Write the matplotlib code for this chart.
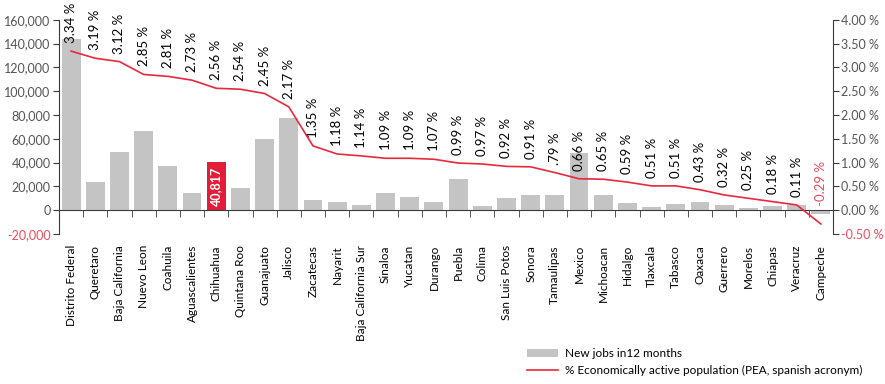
import numpy as np
import matplotlib
matplotlib.use("Agg")
from matplotlib import pyplot as plt
from matplotlib.ticker import FuncFormatter, MultipleLocator

plt.rcParams['font.family'] = ['Lato', 'DejaVu Sans']

# -----------------------------
# data
states = ["Distrito Federal", "Queretaro", "Baja California", "Nuevo Leon", "Coahuila",
          "Aguascalientes", "Chihuahua", "Quintana Roo", "Guanajuato", "Jalisco",
          "Zacatecas", "Nayarit", "Baja California Sur", "Sinaloa", "Yucatan", "Durango",
          "Puebla", "Colima", "San Luis Potos", "Sonora", "Tamaulipas", "Mexico",
          "Michoacan", "Hidalgo", "Tlaxcala", "Tabasco", "Oaxaca", "Guerrero", "Morelos",
          "Chiapas", "Veracruz", "Campeche"]
new_jobs = [143600, 23800, 48900, 66600, 37200, 14500, 40817, 18700, 59900, 77500,
            8700, 7000, 4500, 14500, 11200, 7000, 26300, 3600, 10400, 12900, 12900, 48100,
            12900, 6200, 2800, 5300, 7000, 4500, 2000, 3600, 4500, -2800]
pea_pct = [3.34, 3.19, 3.12, 2.85, 2.81, 2.73, 2.56, 2.54, 2.45, 2.17,
           1.35, 1.18, 1.14, 1.09, 1.09, 1.07, 0.99, 0.97, 0.92, 0.91, 0.79, 0.66,
           0.65, 0.59, 0.51, 0.51, 0.43, 0.32, 0.25, 0.18, 0.11, -0.29]
pct_text = ["3.34 %", "3.19 %", "3.12 %", "2.85 %", "2.81 %", "2.73 %", "2.56 %", "2.54 %",
            "2.45 %", "2.17 %", "1.35 %", "1.18 %", "1.14 %", "1.09 %", "1.09 %", "1.07 %",
            "0.99 %", "0.97 %", "0.92 %", "0.91 %", ".79 %", "0.66 %", "0.65 %", "0.59 %",
            "0.51 %", "0.51 %", "0.43 %", "0.32 %", "0.25 %", "0.18 %", "0.11 %", "-0.29 %"]
highlight = "Chihuahua"

# colours
grey_bar = '#c4c4c4'
red = '#e8283c'
red_bar = '#e31d37'
neg_red = '#ec4a5c'
tick_grey = '#555555'
spine_clr = '#3a3a3a'

x = np.arange(len(states))

fig = plt.figure(figsize=(8.85, 3.84), dpi=100)
ax1 = fig.add_axes([59/885, 1 - 234/384, (833-59)/885, (234-19.7)/384])
ax2 = ax1.twinx()

# bars
colors = [red_bar if s == highlight else grey_bar for s in states]
bars = ax1.bar(x, new_jobs, width=0.78, color=colors, zorder=2, label='New jobs in12 months')
ax1.set_xlim(-0.5, len(states) - 0.5)
ax1.set_ylim(-20000, 160000)
ax1.yaxis.set_major_locator(MultipleLocator(20000))
ax1.yaxis.set_major_formatter(FuncFormatter(lambda v, p: f"{int(v):,}"))

# highlighted value inside its bar
i_hl = states.index(highlight)
ax1.text(x[i_hl], new_jobs[i_hl] / 2, f"{new_jobs[i_hl]:,}", rotation=90, ha='center',
         va='center', color='white', fontsize=9, fontweight='bold', zorder=3)

# line on the right axis
line, = ax2.plot(x, pea_pct, color=red, lw=1.2, zorder=4,
                 label='% Economically active population (PEA, spanish acronym)')
ax2.set_ylim(-0.5, 4.0)
ax2.yaxis.set_major_locator(MultipleLocator(0.5))
ax2.yaxis.set_major_formatter(FuncFormatter(lambda v, p: f"{v:.2f} %"))

for xi, v, t in zip(x, pea_pct, pct_text):
    off = 8 if v >= 0 else 18
    ax2.annotate(t, (xi, v), xytext=(0, off), textcoords='offset pixels', rotation=90,
                 ha='center', va='bottom', fontsize=9.5,
                 color=neg_red if v < 0 else 'black')

# spines
for ax in (ax1, ax2):
    ax.spines['top'].set_visible(False)
ax1.spines['right'].set_visible(False)
ax2.spines['left'].set_visible(False)
ax2.spines['bottom'].set_visible(False)
ax1.spines['left'].set_color(spine_clr)
ax2.spines['right'].set_color(spine_clr)
ax1.spines['bottom'].set_position(('data', 0))
ax1.spines['bottom'].set_color(spine_clr)
ax1.spines['bottom'].set_zorder(5)

# ticks
ax1.tick_params(axis='y', direction='out', length=4, color=spine_clr, labelcolor=tick_grey,
                labelsize=9, pad=2)
ax2.tick_params(axis='y', direction='out', length=4, color=spine_clr, labelcolor=tick_grey,
                labelsize=9, pad=2)
fig.canvas.draw()
for ax in (ax1, ax2):
    for lab in ax.get_yticklabels():
        if lab.get_text().startswith('-') or lab.get_text().startswith('\u2212'):
            lab.set_color(neg_red)

ax1.set_xticks(x)
ax1.set_xticks(np.arange(len(states) + 1) - 0.5, minor=True)
ax1.tick_params(axis='x', which='major', length=0, labelbottom=False)
ax1.tick_params(axis='x', which='minor', direction='out', length=5, color=spine_clr)

# state names below the plot area
sec = ax1.secondary_xaxis('bottom')
sec.set_xticks(x, states, rotation=90, fontsize=8.5)
sec.tick_params(length=0, pad=8, labelcolor='black')
sec.spines['bottom'].set_visible(False)

# legend
fig.legend(handles=[bars, line], loc='upper left', bbox_to_anchor=(527/885, 1 - 348/384),
           frameon=False, fontsize=8.5, handlelength=2.6, handletextpad=0.6,
           labelspacing=0.5, borderpad=0, borderaxespad=0)

fig.savefig('out.png', dpi=100)
